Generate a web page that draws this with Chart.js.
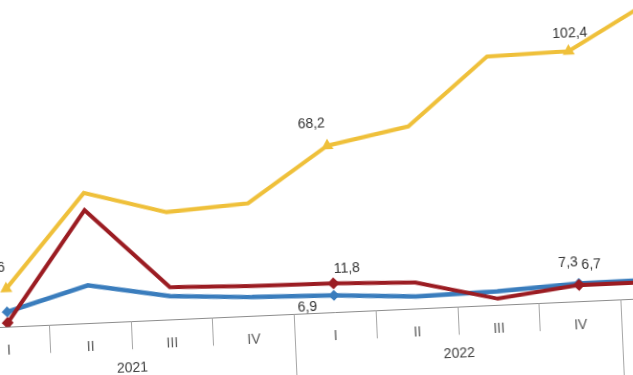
<!DOCTYPE html>
<html>
<head>
<meta charset="utf-8">
<script src="https://cdn.jsdelivr.net/npm/chart.js@4.4.1/dist/chart.umd.min.js"></script>
<style>
  html, body { margin: 0; padding: 0; background: #fff; overflow: hidden; }
  body { width: 633px; height: 375px; position: relative; }
  #wrap { position: absolute; left: -38px; top: 0; width: 750px; height: 440px; }
</style>
</head>
<body>
<div id="wrap"><canvas id="chart" width="750" height="440"></canvas></div>
<script>
// quarters shown on the axis, grouped by year (4 per year)
const quarters = ['I', 'II', 'III', 'IV', 'I', 'II', 'III', 'IV', 'I'];
const years = ['2021', '2022', '2023'];

const seriesYellow = [15.6, 53.3, 44.0, 46.1, 68.2, 74.6, 101.7, 102.4, 121.0];
const seriesRed = [1.6, 46.3, 13.3, 12.2, 11.8, 10.7, 2.6, 6.7, 6.6];
const seriesBlue = [6.1, 15.5, 9.6, 7.7, 6.9, 5.0, 5.6, 7.3, 7.5];

// points that get a marker and a value label
const markedPoints = [0, 4, 7];

const fontFamily = '"Liberation Sans", Arial, sans-serif';
const pxPerUnit = 2.445;   // vertical scale of the picture
const tilt = -2.55;        // the whole picture is slightly rotated
const axisLeftY = 327;     // page y where the axis leaves the left edge
const axisLeftX = 40;      // canvas x that ends up at page x = 0

// label offsets per dataset and point (dx, dy from the marker)
const labelOffsets = {
    yellow: { 0: [-14, -21], 4: [-15, -22], 7: [2, -18] },
    red: { 0: [-34, -14], 4: [14, -14], 7: [13, -20] },
    blue: { 0: [-30, 11], 4: [-27, 11], 7: [-10, -21] }
};

function lineSet(key, data, color, style, size, width, order) {
    return {
        label: key,
        data: data,
        borderColor: color,
        backgroundColor: color,
        borderWidth: width,
        pointStyle: style,
        pointRadius: ctx => markedPoints.includes(ctx.dataIndex) ? size : 0,
        pointHoverRadius: 0,
        pointBorderWidth: 0,
        tension: 0,
        order: order
    };
}

const extras = {
    id: 'extras',
    afterDatasetsDraw(chart) {
        const ctx = chart.ctx;
        const x = chart.scales.x;
        const area = chart.chartArea;
        ctx.save();

        // separators between quarters, longer ones between years
        ctx.strokeStyle = '#a6a6a6';
        ctx.lineWidth = 1;
        for (let i = 1; i <= quarters.length; i++) {
            const px = Math.round((x.getPixelForValue(i) + x.getPixelForValue(i - 1)) / 2) + 0.5;
            const len = i % 4 === 0 ? 90 : 28;
            ctx.beginPath();
            ctx.moveTo(px, area.bottom);
            ctx.lineTo(px, area.bottom + len);
            ctx.stroke();
        }

        // year labels centred under their quarters
        ctx.fillStyle = '#404040';
        ctx.font = '14px ' + fontFamily;
        ctx.textAlign = 'center';
        ctx.textBaseline = 'middle';
        years.forEach((yr, g) => {
            const cx = (x.getPixelForValue(g * 4) + x.getPixelForValue(g * 4 + 3)) / 2;
            ctx.fillText(yr, cx, area.bottom + 47);
        });

        // value labels at the marked points
        ctx.fillStyle = '#333333';
        chart.data.datasets.forEach((ds, di) => {
            const meta = chart.getDatasetMeta(di);
            markedPoints.forEach(idx => {
                const el = meta.data[idx];
                if (!el) return;
                const off = labelOffsets[ds.label][idx] || [0, -18];
                const txt = ds.data[idx].toFixed(1).replace('.', ',');
                ctx.fillText(txt, el.x + off[0], el.y + off[1]);
            });
        });
        ctx.restore();
    }
};

const chart = new Chart(document.getElementById('chart'), {
    type: 'line',
    data: {
        labels: quarters,
        datasets: [
            lineSet('red', seriesRed, '#9b1c22', 'rectRot', 6, 4, 0),
            lineSet('blue', seriesBlue, '#3a7dbd', 'rectRot', 5.5, 4.5, 1),
            lineSet('yellow', seriesYellow, '#efc03a', 'triangle', 7, 4, 2)
        ]
    },
    options: {
        responsive: false,
        animation: false,
        layout: { padding: { top: 0, left: 0, right: 0, bottom: 50 } },
        plugins: {
            legend: { display: false },
            tooltip: { enabled: false }
        },
        scales: {
            x: {
                offset: true,
                grid: { display: false },
                border: { display: true, color: '#8c8c8c', width: 1 },
                ticks: {
                    color: '#595959',
                    font: { family: fontFamily, size: 14 },
                    padding: 8,
                    maxRotation: 0,
                    autoSkip: false
                }
            },
            y: {
                display: false,
                min: 0,
                max: 140
            }
        }
    },
    plugins: [extras]
});

// fit the value range to the picture's vertical scale, then tilt it into place
const area = chart.chartArea;
chart.options.scales.y.max = (area.bottom - area.top) / pxPerUnit;
chart.update('none');
const wrap = document.getElementById('wrap');
wrap.style.left = -axisLeftX + 'px';
wrap.style.top = (axisLeftY - chart.chartArea.bottom) + 'px';
wrap.style.transformOrigin = axisLeftX + 'px ' + chart.chartArea.bottom + 'px';
wrap.style.transform = 'rotate(' + tilt + 'deg)';
</script>
</body>
</html>
